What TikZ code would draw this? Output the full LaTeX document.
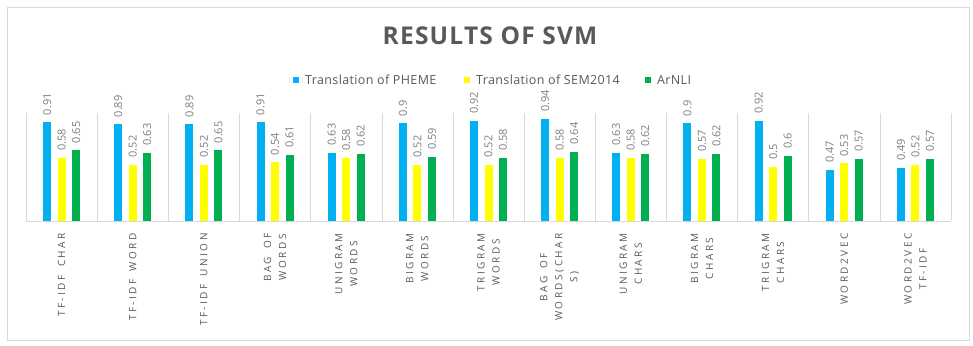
\documentclass[tikz,border=0pt]{standalone}
\usepackage{fontspec}
\setmainfont{Open Sans}
\newfontfamily\catfont[LetterSpace=25, WordSpace=1.6]{Open Sans}
\newfontfamily\titlefont[LetterSpace=5]{Open Sans}
\newfontfamily\legfont[LetterSpace=3]{Open Sans}
\usetikzlibrary{positioning}

\definecolor{pheme}{HTML}{00B0F0}
\definecolor{semeval}{HTML}{FFFF00}
\definecolor{arnli}{HTML}{00B050}
\definecolor{gridgray}{HTML}{D9D9D9}
\definecolor{textgray}{HTML}{595959}
\definecolor{labelgray}{HTML}{7F7F7F}

\begin{document}
\begin{tikzpicture}[x=1pt, y=-1pt,
    vallabel/.style={rotate=90, anchor=west, inner sep=0pt, text=labelgray, font=\fontsize{11}{13}\selectfont},
    catlabel/.style={rotate=90, anchor=east, align=center, inner sep=0pt, text=textgray, font=\catfont\fontsize{10}{15}\selectfont},
    legkey/.style={minimum size=6.5pt, inner sep=0pt},
    legtext/.style={inner sep=0pt, text=textgray, font=\legfont\fontsize{12.5}{15}\selectfont}]

        \useasboundingbox (0,0) rectangle (973,345);
        \draw[gridgray, fill=white] (7,7) rectangle (969,340);

        % Title and legend
        \node[text=textgray, font=\titlefont\bfseries\fontsize{24.5}{28}\selectfont] (title) at (490,36) {RESULTS OF SVM};

        \node[legkey, fill=pheme] (kpheme) at (296,80) {};
        \node[legtext, right=5.5pt of kpheme] (tpheme) {Translation of PHEME};
        \node[legkey, fill=semeval] (ksem) at (467,80) {};
        \node[legtext, right=5.5pt of ksem] (tsem) {Translation of SEM2014};
        \node[legkey, fill=arnli] (karnli) at (648,80) {};
        \node[legtext, right=5.5pt of karnli] (tarnli) {ArNLI};

        % Grid
        \foreach \i in {0,...,13}
            \draw[gridgray] ({26+71.15*\i},113) -- ({26+71.15*\i},221);
        \draw[gridgray] (26,221) -- (951,221);

        % Bars with values
        \foreach \a/\b/\g [count=\i from 0] in {0.91/0.58/0.65, 0.89/0.52/0.63, 0.89/0.52/0.65,
                0.91/0.54/0.61, 0.63/0.58/0.62, 0.9/0.52/0.59, 0.92/0.52/0.58, 0.94/0.58/0.64,
                0.63/0.58/0.62, 0.9/0.57/0.62, 0.92/0.5/0.6, 0.47/0.53/0.57, 0.49/0.52/0.57} {
            \pgfmathsetmacro{\c}{61.6+71.15*\i}
            \fill[pheme] ({\c-18.5},221) rectangle ++(8,{-108.5*\a});
            \fill[semeval] ({\c-4},221) rectangle ++(8,{-108.5*\b});
            \fill[arnli] ({\c+10.5},221) rectangle ++(8,{-108.5*\g});
            \node[vallabel] (va\i) at ({\c-14.5},{214-108.5*\a}) {\a};
            \node[vallabel] (vb\i) at ({\c},{214-108.5*\b}) {\b};
            \node[vallabel] (vg\i) at ({\c+14.5},{214-108.5*\g}) {\g};
        }

        % Category names
        \foreach \t [count=\i from 0] in {TF-IDF CHAR, TF-IDF WORD, TF-IDF UNION, {BAG OF\\WORDS},
                {UNIGRAM\\WORDS}, {BIGRAM\\WORDS}, {TRIGRAM\\WORDS}, {BAG OF\\WORDS(CHAR\\S)},
                {UNIGRAM\\CHARS}, {BIGRAM\\CHARS}, {TRIGRAM\\CHARS}, WORD2VEC, {WORD2VEC\\TF-IDF}}
            \node[catlabel] (cat\i) at ({61.6+71.15*\i},233) {\t};

    \end{tikzpicture}
\end{document}
